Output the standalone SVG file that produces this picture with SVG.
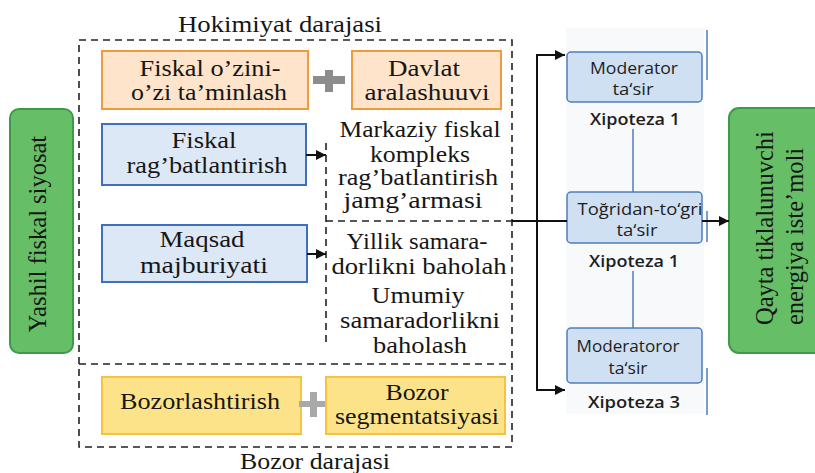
<svg xmlns="http://www.w3.org/2000/svg" width="815" height="473" viewBox="0 0 815 473">
<defs>
<marker id="arr" viewBox="0 0 10 10" refX="10" refY="5" markerWidth="5" markerHeight="5" markerUnits="strokeWidth" orient="auto">
<path d="M0,0 L10,5 L0,10 z" fill="#111"/>
</marker>
<style>
.s{font-family:"Liberation Serif","Times New Roman",serif;font-size:24px;fill:#161616;text-anchor:middle}
.v{font-family:"Liberation Serif","Times New Roman",serif;font-size:24.5px;fill:#161616}
.h{font-family:"Open Sans","Liberation Sans",sans-serif;font-size:16.5px;fill:#1e1e1e;text-anchor:middle}
.hb{font-family:"Open Sans","Liberation Sans",sans-serif;font-size:16.5px;font-weight:600;fill:#1e1e1e;text-anchor:middle}
.or{fill:#FDE4CA;stroke:#F09A3E;stroke-width:2}
.bl{fill:#DDE8F6;stroke:#3F70BE;stroke-width:2}
.ye{fill:#FCE38A;stroke:#F5C242;stroke-width:2}
.gr{fill:#66BE66;stroke:#3D9B47;stroke-width:2}
.hy{fill:#CFE0F2;stroke:#4F7DBA;stroke-width:1.5}
.dash{fill:none;stroke:#222;stroke-width:1.6;stroke-dasharray:7 5}
.ln{fill:none;stroke:#111;stroke-width:2}
.bline{stroke:#4F7DBA;stroke-width:1.5}
</style>
</defs>
<rect width="815" height="473" fill="#fff"/>

<!-- light panel -->
<rect x="566" y="28" width="138" height="386" fill="#f8f9fa"/>
<g id="artifacts">
<line x1="707" y1="30" x2="707" y2="80" class="bline" stroke-width="1"/>
<line x1="707" y1="211" x2="707" y2="242" class="bline" stroke-width="1"/>
<line x1="707" y1="368" x2="707" y2="415" class="bline" stroke-width="1"/>
</g>

<g id="levels">
<rect x="79" y="40" width="433" height="407" class="dash"/>
<line x1="79" y1="364" x2="512" y2="364" class="dash"/>
<line x1="326" y1="143" x2="326" y2="347" class="dash"/>
<line x1="326" y1="221" x2="512" y2="221" class="dash"/>
<text class="s" x="280" y="32" textLength="204" lengthAdjust="spacingAndGlyphs">Hokimiyat darajasi</text>
<text class="s" x="315" y="469" textLength="150" lengthAdjust="spacingAndGlyphs">Bozor darajasi</text>
</g>

<g id="yashil">
<rect x="10" y="109" width="63" height="244" rx="9" class="gr"/>
<text class="v" text-anchor="middle" transform="translate(46,234) rotate(-90)">Yashil fiskal siyosat</text>
</g>

<g id="fiskal-ozini">
<rect x="102" y="51" width="206" height="58" class="or"/>
<text class="s" x="210" y="76" textLength="141" lengthAdjust="spacingAndGlyphs">Fiskal o’zini-</text>
<text class="s" x="209" y="100" textLength="156" lengthAdjust="spacingAndGlyphs">o’zi ta’minlash</text>
</g>

<g id="plus1" fill="#8c8c8c">
<rect x="313" y="76" width="32" height="8"/>
<rect x="325" y="70" width="8" height="22"/>
</g>

<g id="davlat">
<rect x="352" y="51" width="149" height="58" class="or"/>
<text class="s" x="424" y="76" textLength="72" lengthAdjust="spacingAndGlyphs">Davlat</text>
<text class="s" x="427" y="100" textLength="125" lengthAdjust="spacingAndGlyphs">aralashuuvi</text>
</g>

<g id="fiskal-rag">
<rect x="102" y="124" width="204" height="61" class="bl"/>
<text class="s" x="204" y="148" textLength="65" lengthAdjust="spacingAndGlyphs">Fiskal</text>
<text class="s" x="207" y="173" textLength="161" lengthAdjust="spacingAndGlyphs">rag’batlantirish</text>
</g>

<g id="markaziy">
<text class="s" x="420" y="137" textLength="161" lengthAdjust="spacingAndGlyphs">Markaziy fiskal</text>
<text class="s" x="420" y="162" textLength="100" lengthAdjust="spacingAndGlyphs">kompleks</text>
<text class="s" x="418" y="185" textLength="160" lengthAdjust="spacingAndGlyphs">rag’batlantirish</text>
<text class="s" x="413" y="208" textLength="139" lengthAdjust="spacingAndGlyphs">jamg’armasi</text>
</g>

<g id="maqsad">
<rect x="102" y="225" width="205" height="57" class="bl"/>
<text class="s" x="202" y="247" textLength="85" lengthAdjust="spacingAndGlyphs">Maqsad</text>
<text class="s" x="204" y="273" textLength="128" lengthAdjust="spacingAndGlyphs">majburiyati</text>
</g>

<g id="baholash">
<text class="s" x="417" y="249" textLength="141" lengthAdjust="spacingAndGlyphs">Yillik samara-</text>
<text class="s" x="419" y="274" textLength="175" lengthAdjust="spacingAndGlyphs">dorlikni baholah</text>
<text class="s" x="418" y="303" textLength="93" lengthAdjust="spacingAndGlyphs">Umumiy</text>
<text class="s" x="420" y="328" textLength="160" lengthAdjust="spacingAndGlyphs">samaradorlikni</text>
<text class="s" x="420" y="353" textLength="94" lengthAdjust="spacingAndGlyphs">baholash</text>
</g>

<g id="bozorlashtirish">
<rect x="102" y="377" width="199" height="57" class="ye"/>
<text class="s" x="200" y="409" textLength="160" lengthAdjust="spacingAndGlyphs">Bozorlashtirish</text>
</g>

<g id="plus2" fill="#a9a9a9">
<rect x="299" y="401" width="28" height="6"/>
<rect x="310" y="392" width="7" height="25"/>
</g>

<g id="segment">
<rect x="326" y="377" width="179" height="57" class="ye"/>
<text class="s" x="417" y="400" textLength="63" lengthAdjust="spacingAndGlyphs">Bozor</text>
<text class="s" x="417" y="424" textLength="164" lengthAdjust="spacingAndGlyphs">segmentatsiyasi</text>
</g>

<g id="hyp-moderator">
<rect x="567" y="52" width="135" height="50" rx="4" class="hy"/>
<text class="h" x="634" y="74" textLength="88" lengthAdjust="spacingAndGlyphs">Moderator</text>
<text class="h" x="633" y="95" textLength="41" lengthAdjust="spacingAndGlyphs">ta‘sir</text>
<text class="hb" x="635" y="125" textLength="90" lengthAdjust="spacingAndGlyphs">Xipoteza 1</text>
</g>

<g id="hyp-togridan">
<rect x="567" y="192" width="135" height="51" rx="4" class="hy"/>
<text class="h" x="640" y="215" textLength="125" lengthAdjust="spacingAndGlyphs">Toğridan-to‘gri</text>
<text class="h" x="637" y="236" textLength="41" lengthAdjust="spacingAndGlyphs">ta‘sir</text>
<text class="hb" x="634" y="267" textLength="90" lengthAdjust="spacingAndGlyphs">Xipoteza 1</text>
</g>

<g id="hyp-moderatoror">
<rect x="567" y="328" width="135" height="55" rx="4" class="hy"/>
<text class="h" x="628" y="352" textLength="103" lengthAdjust="spacingAndGlyphs">Moderatoror</text>
<text class="h" x="628" y="374" textLength="39" lengthAdjust="spacingAndGlyphs">ta‘sir</text>
<text class="hb" x="634" y="408" textLength="92" lengthAdjust="spacingAndGlyphs">Xipoteza 3</text>
</g>

<g id="qayta">
<rect x="729" y="108" width="100" height="245" rx="10" class="gr"/>
<text class="v" font-size="25" transform="translate(773,325) rotate(-90)">Qayta tiklalunuvchi</text>
<text class="v" font-size="25" transform="translate(803,325) rotate(-90)">energiya iste’moli</text>
</g>

<g id="connectors">
<line x1="633" y1="129" x2="633" y2="192" class="bline"/>
<line x1="633" y1="271" x2="633" y2="328" class="bline"/>
<path d="M306,155 H326" class="ln" marker-end="url(#arr)"/>
<path d="M307,254 H326" class="ln" marker-end="url(#arr)"/>
<path d="M512,221 H567" class="ln"/>
<path d="M537,221 V55 H565" class="ln" marker-end="url(#arr)"/>
<path d="M537,221 V390 H565" class="ln" marker-end="url(#arr)"/>
<path d="M702,221 H729" class="ln" marker-end="url(#arr)"/>
</g>
</svg>
